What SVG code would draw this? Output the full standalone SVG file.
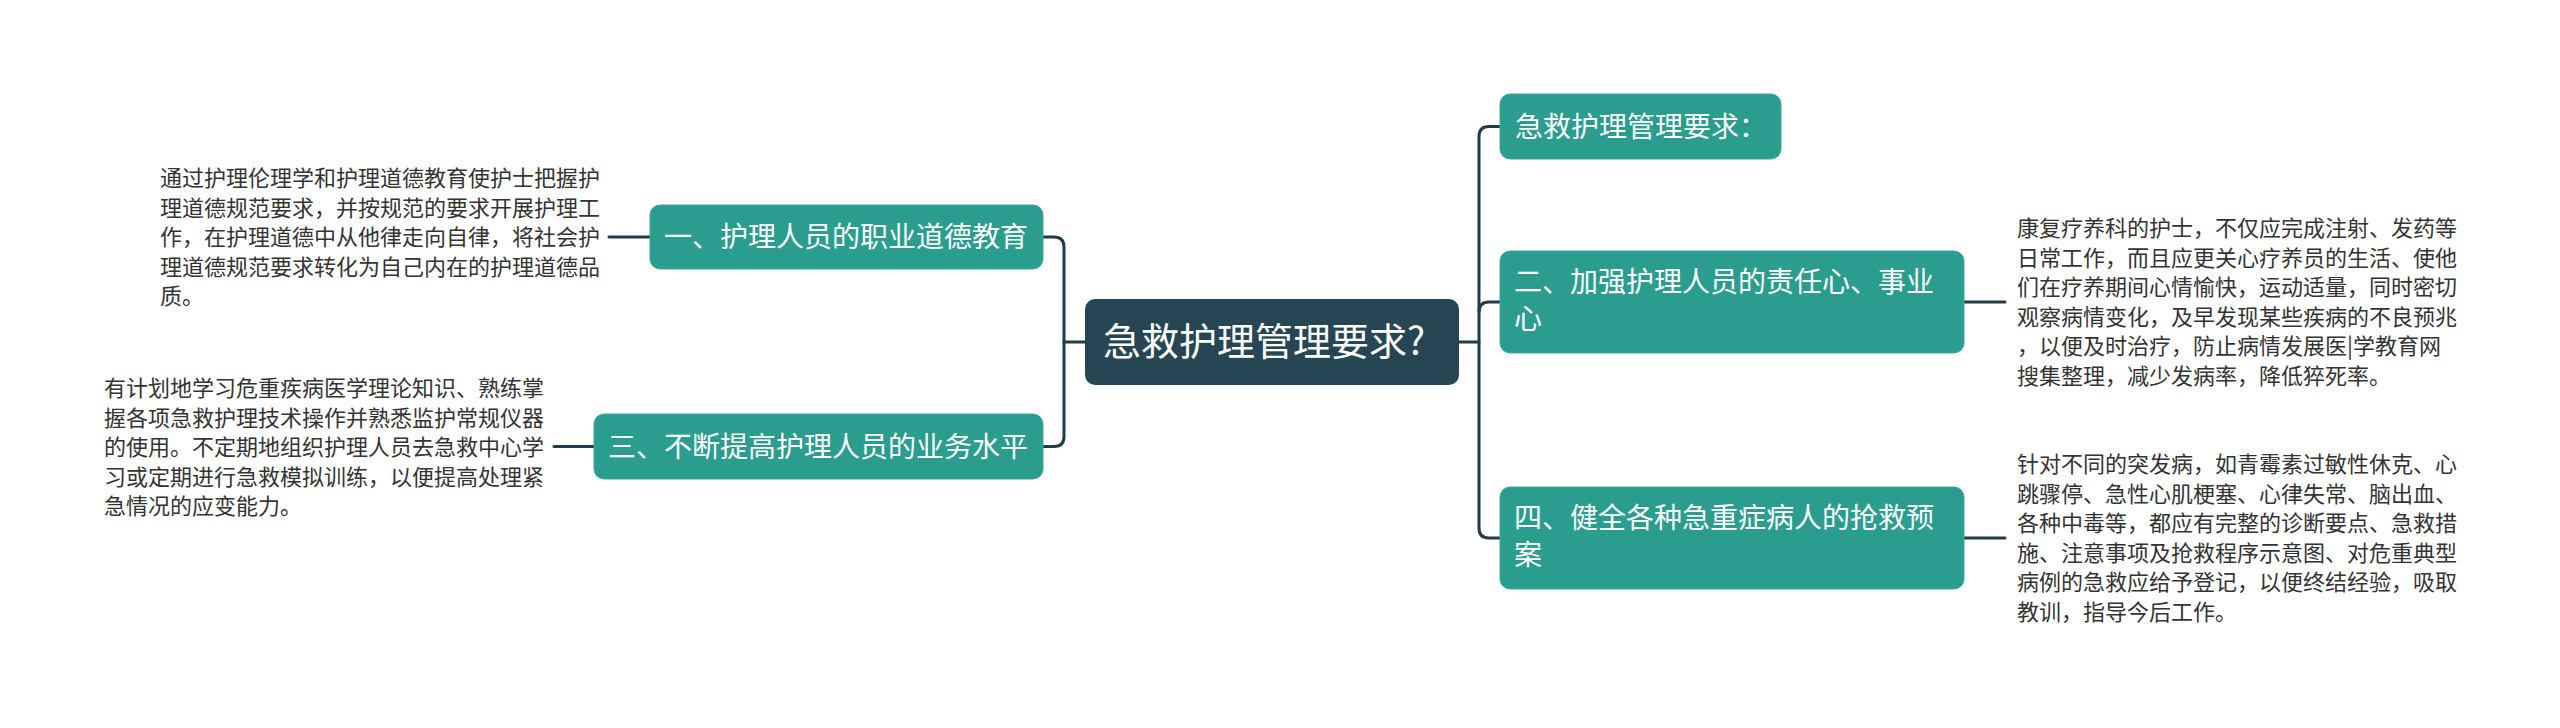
<svg xmlns="http://www.w3.org/2000/svg" width="2560" height="728" viewBox="0 0 2560 728">
<style>
text{font-family:"Noto Sans CJK SC","Microsoft YaHei",sans-serif;}
.root{fill:#264653;}
.main{fill:#2a9d8f;stroke:#3fa99b;stroke-width:1;}
.rt{fill:#ffffff;font-size:38px;}
.mt{fill:#ffffff;font-size:28px;}
.lt{fill:#333333;font-size:22px;}
.conn{fill:none;stroke:#1f3c48;stroke-width:3;stroke-linecap:round;}
</style>
<rect width="2560" height="728" fill="#ffffff"/>
<g id="connectors">
<path class="conn" d="M1043,237 H1054 Q1064,237 1064,247 V436.5 Q1064,446.5 1054,446.5 H1043"/>
<path class="conn" d="M1064,342 H1085"/>
<path class="conn" d="M1459,342 H1479"/>
<path class="conn" d="M1500,126.5 H1489 Q1479,126.5 1479,136.5 V528 Q1479,538 1489,538 H1500"/>
<path class="conn" d="M1479,312 Q1479,302 1489,302 H1500"/>
<path class="conn" d="M650,237 H609"/>
<path class="conn" d="M594,446.5 H554"/>
<path class="conn" d="M1964,302 H2005"/>
<path class="conn" d="M1964,538 H2005"/>
</g>
<g id="root">
<rect class="root" x="1085" y="299" width="374" height="86" rx="10"/>
<text class="rt" x="1103" y="355">急救护理管理要求?</text>
</g>
<g id="n0">
<rect class="main" x="1500" y="94" width="281" height="65" rx="10"/>
<text class="mt" x="1515" y="136.5">急救护理管理要求：</text>
</g>
<g id="n1">
<rect class="main" x="650" y="205" width="393" height="64" rx="10"/>
<text class="mt" x="664" y="247">一、护理人员的职业道德教育</text>
</g>
<g id="n2">
<rect class="main" x="1500" y="251" width="464" height="102" rx="10"/>
<text class="mt" x="1514" y="292">二、加强护理人员的责任心、事业</text>
<text class="mt" x="1514" y="329">心</text>
</g>
<g id="n3">
<rect class="main" x="594" y="414" width="449" height="65" rx="10"/>
<text class="mt" x="608" y="457">三、不断提高护理人员的业务水平</text>
</g>
<g id="n4">
<rect class="main" x="1500" y="487" width="464" height="102" rx="10"/>
<text class="mt" x="1514" y="528">四、健全各种急重症病人的抢救预</text>
<text class="mt" x="1514" y="565">案</text>
</g>
<g id="leaf1">
<text class="lt" x="160" y="186">通过护理伦理学和护理道德教育使护士把握护</text>
<text class="lt" x="160" y="215.5">理道德规范要求，并按规范的要求开展护理工</text>
<text class="lt" x="160" y="245">作，在护理道德中从他律走向自律，将社会护</text>
<text class="lt" x="160" y="274.5">理道德规范要求转化为自己内在的护理道德品</text>
<text class="lt" x="160" y="304">质。</text>
</g>
<g id="leaf3">
<text class="lt" x="104" y="396">有计划地学习危重疾病医学理论知识、熟练掌</text>
<text class="lt" x="104" y="425.5">握各项急救护理技术操作并熟悉监护常规仪器</text>
<text class="lt" x="104" y="455">的使用。不定期地组织护理人员去急救中心学</text>
<text class="lt" x="104" y="484.5">习或定期进行急救模拟训练，以便提高处理紧</text>
<text class="lt" x="104" y="514">急情况的应变能力。</text>
</g>
<g id="leaf2">
<text class="lt" x="2017" y="236">康复疗养科的护士，不仅应完成注射、发药等</text>
<text class="lt" x="2017" y="265.5">日常工作，而且应更关心疗养员的生活、使他</text>
<text class="lt" x="2017" y="295">们在疗养期间心情愉快，运动适量，同时密切</text>
<text class="lt" x="2017" y="324.5">观察病情变化，及早发现某些疾病的不良预兆</text>
<text class="lt" x="2017" y="354">，以便及时治疗，防止病情发展医|学教育网</text>
<text class="lt" x="2017" y="383.5">搜集整理，减少发病率，降低猝死率。</text>
</g>
<g id="leaf4">
<text class="lt" x="2017" y="472">针对不同的突发病，如青霉素过敏性休克、心</text>
<text class="lt" x="2017" y="501.5">跳骤停、急性心肌梗塞、心律失常、脑出血、</text>
<text class="lt" x="2017" y="531">各种中毒等，都应有完整的诊断要点、急救措</text>
<text class="lt" x="2017" y="560.5">施、注意事项及抢救程序示意图、对危重典型</text>
<text class="lt" x="2017" y="590">病例的急救应给予登记，以便终结经验，吸取</text>
<text class="lt" x="2017" y="619.5">教训，指导今后工作。</text>
</g>
</svg>
